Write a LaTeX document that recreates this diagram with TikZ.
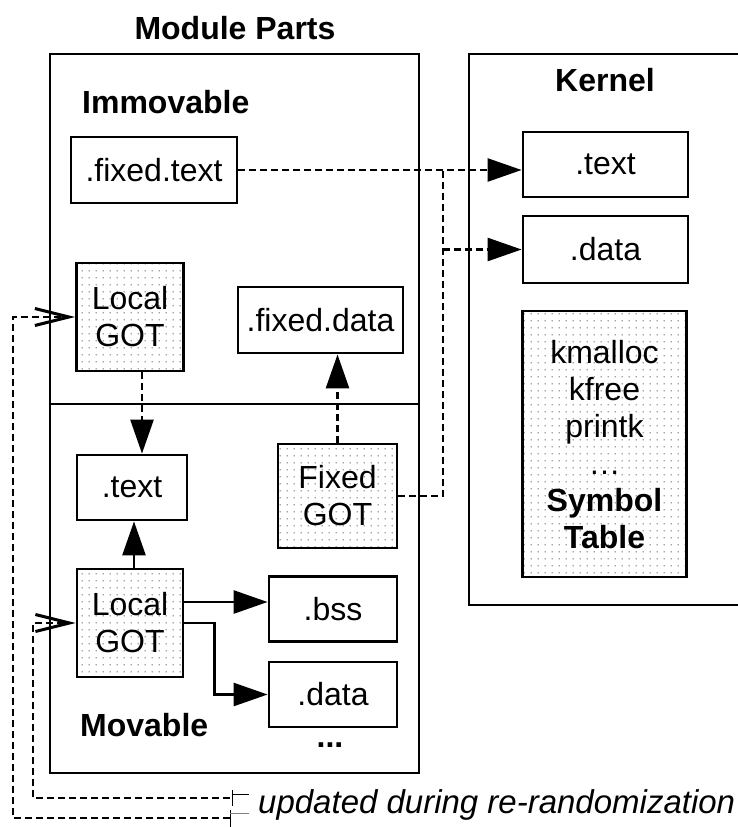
\documentclass[tikz,border=0pt]{standalone}
\usepackage{fontspec}
\setmainfont{Liberation Sans}
\usetikzlibrary{arrows.meta,patterns.meta,calc}

% fine dot grid used for the GOT / symbol table boxes
\tikzdeclarepattern{
  name=gotdots,
  type=uncolored,
  bounding box={(0pt,0pt) and (6.6pt,6.6pt)},
  tile size={(6.6pt,6.6pt)},
  code={\fill (3.3pt,3.3pt) circle [radius=0.75pt];}
}

\tikzset{
  txt/.style={font=\fontsize{32}{37}\selectfont, inner sep=0pt},
  boldtxt/.style={txt, font=\fontsize{32}{37}\selectfont\bfseries},
  sect/.style={txt, draw, line width=2.8pt, align=center},
  dotted box/.style={sect, pattern=gotdots, pattern color=black!70},
  frame/.style={draw, line width=2.8pt, inner sep=0pt},
  dashln/.style={line width=2.6pt, dash pattern=on 7pt off 4pt},
  solidarrow/.style={line width=2.6pt, -{Triangle[length=34pt,width=23pt]}},
  dasharrow/.style={dashln, -{Triangle[length=34pt,width=23pt]}},
  openarrow/.style={dashln, -{Straight Barb[length=34pt,width=17pt,line width=3pt]}},
  tickmark/.style={line width=1pt}
}

\begin{document}
\begin{tikzpicture}[x=1pt,y=-1pt]
\useasboundingbox (0,0) rectangle (738,827);

% containers
\node[frame, minimum width=369, minimum height=719] (module) at (234.5,413.5) {};
\node[frame, minimum width=300, minimum height=551] (kernel) at (619,329.5) {};
\draw[line width=2.8pt] (module.west |- 0,404) coordinate (divl) -- (module.east |- 0,404) coordinate (divr);

% titles
\node[boldtxt] (modtitle) at (235,28) {Module Parts};
\node[boldtxt] (kertitle) at (605,80) {Kernel};
\node[boldtxt, anchor=west] (immov) at (82,102) {Immovable};
\node[boldtxt, anchor=west] (mov) at (80,725) {Movable};

% immovable part
\node[sect, minimum width=166, minimum height=66] (fixedtext) at (154,170) {.fixed.text};
\node[dotted box, minimum width=107, minimum height=108] (lgota) at (130,317) {Local\\GOT};
\node[sect, minimum width=165, minimum height=66] (fixeddata) at (320.5,320) {.fixed.data};

% movable part
\node[sect, minimum width=110, minimum height=65] (mtext) at (132,487.5) {.text};
\node[dotted box, minimum width=119, minimum height=104] (fixedgot) at (337.5,496) {Fixed\\GOT};
\node[dotted box, minimum width=106, minimum height=108] (lgotb) at (130,623) {Local\\GOT};
\node[sect, minimum width=128, minimum height=65] (bss) at (333,609) {.bss};
\node[sect, minimum width=128, minimum height=65] (mdata) at (333,694.5) {.data};
\node[boldtxt] (more) at (330,745) {...};

% kernel sections
\node[sect, minimum width=165, minimum height=65] (ktext) at (605.5,164.5) {.text};
\node[sect, minimum width=165, minimum height=67] (kdata) at (605.5,249.5) {.data};
\node[dotted box, minimum width=164, minimum height=266, text depth=0pt] (symtab) at (604.5,444)
  {kmalloc\\kfree\\printk\\…\\\textbf{Symbol}\\\textbf{Table}};

% references into the kernel
\coordinate (jx) at (443,0);
\draw[dasharrow] (fixedtext.east) -- (fixedtext.east -| ktext.west);
\draw[dashln] (fixedgot.east) -- (fixedgot.east -| jx) -- (jx |- fixedtext.east);
\draw[dasharrow] (jx |- kdata.west) -- (kdata.west);

% references inside the module
\draw[dasharrow] ([xshift=12pt]lgota.south) -- ([xshift=10pt]mtext.north);
\draw[dasharrow] (fixedgot.north) -- (fixedgot.north |- fixeddata.south);
\draw[solidarrow] ([xshift=4pt]lgotb.north) -- ([xshift=4pt]lgotb.north |- mtext.south);
\draw[solidarrow] ([yshift=21pt]lgotb.east) -- ([yshift=21pt]lgotb.east -| bss.west);
\draw[solidarrow] (lgotb.east) -- ++(30,0) |- (mdata.west);

% legend: entries rewritten during re-randomization
\coordinate (ea) at (230,818);
\coordinate (eb) at (230,798);
\coordinate (ox) at (13,0);
\coordinate (ix) at (33,0);
\draw[openarrow] (ea) -- (ea -| ox) -- (ox |- lgota.west) -- (lgota.west);
\draw[openarrow] (eb) -- (eb -| ix) -- (ix |- lgotb.west) -- (lgotb.west);
\draw[tickmark] (232,790) -- (232,806);
\draw[tickmark] (232,794) -- (249,794);
\draw[tickmark] (230,810) -- (230,827);
\draw[tickmark, black!50] (230,813) -- (249,813);
\node[txt, anchor=west, font=\fontsize{33}{38}\selectfont\itshape] (legend) at (258,805) {updated during re-randomization};
\end{tikzpicture}
\end{document}
